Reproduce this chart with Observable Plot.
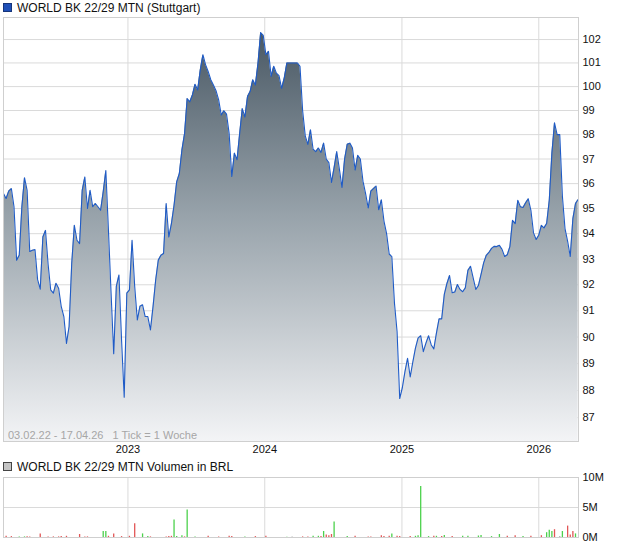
<!DOCTYPE html>
<html><head><meta charset="utf-8">
<script src="https://cdn.jsdelivr.net/npm/d3@7"></script>
<script src="https://cdn.jsdelivr.net/npm/@observablehq/plot@0.6"></script>
<style>
body{margin:0;background:#fff;font-family:"Liberation Sans",Arial,sans-serif;}
#wrap{position:relative;width:620px;height:546px;overflow:hidden;background:#fff;}
.abs{position:absolute;left:0;}
.leg{position:absolute;left:3px;font-size:12px;line-height:14px;color:#111;white-space:nowrap;}
.sq{display:inline-block;width:7px;height:7px;border:1px solid #333;margin-right:5px;vertical-align:0px;}
#note{position:absolute;left:8px;top:429px;font-size:11px;line-height:12px;color:#a6a6a6;white-space:pre;}
</style></head>
<body><div id="wrap">
<div id="p1" class="abs" style="top:0px"></div>
<div id="p2" class="abs" style="top:470px"></div>
<div class="leg" style="top:1px"><span class="sq" style="background:#1f50b8;border-color:#17357a"></span>WORLD BK 22/29 MTN (Stuttgart)</div>
<div id="note">03.02.22 - 17.04.26   1 Tick = 1 Woche</div>
<div class="leg" style="top:460px"><span class="sq" style="background:#c4c4c4;border-color:#444"></span>WORLD BK 22/29 MTN Volumen in BRL</div>
</div>
<script>
// ---- data (weekly ticks) ----
const startDate = "2022-02-03";
const endDate = "2026-04-17";
const prices = [
95.6,95.4,95.7,95.8,95.07,92.96,93.15,95.07,96.24,95.73,
93.3,93.35,93.37,92.2,91.83,93.87,94.13,92.8,91.8,91.68,
92.06,91.87,91.17,90.78,89.76,90.4,92.83,94.33,93.74,93.61,
95.73,96.27,95.0,95.73,95.07,95.2,95.07,94.93,95.67,96.53,
94.13,91.68,89.37,91.94,92.38,89.88,87.75,91.68,91.8,93.74,
91.94,90.65,91.17,91.23,90.78,90.78,90.27,91.17,92.19,92.96,
93.15,93.22,95.2,93.87,94.4,95.13,96.07,96.4,97.37,98.04,
99.5,99.36,99.65,100.1,99.86,100.71,101.35,100.93,100.64,100.29,
100.07,99.83,99.44,98.81,98.99,98.85,98.04,96.29,97.24,96.97,
98.04,99.08,98.73,99.58,99.79,100.29,100.07,101.0,102.3,102.18,
101.35,101.49,100.43,100.86,100.57,100.46,99.93,100.36,101.0,101.0,
101.0,101.0,101.0,100.86,99.0,97.95,97.6,98.2,97.4,97.3,
97.45,97.27,97.65,97.0,96.85,96.05,96.65,97.3,96.6,95.85,
97.0,97.6,97.65,97.45,96.55,97.15,97.0,96.1,95.6,95.02,
95.7,95.8,95.9,94.95,95.35,94.5,94.0,93.2,93.1,91.3,
90.2,87.7,88.1,88.7,89.2,88.5,89.06,89.58,89.96,90.05,
89.45,89.77,90.05,89.71,89.55,90.15,90.69,90.69,91.63,92.05,
92.36,91.69,91.72,92.01,91.82,91.73,91.88,92.56,92.72,92.27,
91.82,91.97,92.4,92.85,93.15,93.26,93.42,93.5,93.49,93.54,
93.38,93.1,93.17,93.49,94.53,94.4,95.33,95.07,95.04,95.23,
95.39,94.93,94.03,93.77,93.94,94.33,94.23,94.4,95.33,97.24,
98.49,98.0,98.0,95.5,94.2,93.7,93.1,94.6,95.2,95.36
];
// volume (millions BRL), by week index; direction g = up, r = down, n = unchanged
const volWeek = [1,3,6,8,9,10,14,17,19,21,22,24,29,31,32,38,39,40,42,45,48,50,53,55,56,62,63,64,65,66,68,69,70,73,78,82,86,87,92,96,100,108,110,114,116,118,120,121,122,123,124,125,126,131,134,139,140,144,145,147,148,150,151,155,157,158,159,162,164,165,167,168,171,175,177,181,182,186,189,192,195,198,201,205,207,208,209,210,212,213,215,216,217,218];
const volValue = [0.2,0.15,0.1,0.1,0.12,0.1,0.6,0.1,0.1,0.1,0.15,0.2,0.5,0.1,0.1,1.0,1.0,0.2,0.6,0.15,0.2,2.3,0.6,0.15,0.1,0.1,0.15,0.2,2.9,0.15,0.3,0.1,4.6,0.1,0.2,0.1,0.2,0.15,0.1,0.15,0.2,0.05,0.1,0.1,0.1,0.2,0.2,0.15,1.0,0.4,0.3,0.5,2.6,0.15,0.2,0.1,0.1,0.3,0.15,0.2,0.6,0.2,0.15,0.15,0.2,0.3,8.5,0.15,0.2,0.2,0.15,0.35,0.15,0.2,0.2,0.25,0.35,0.15,0.5,0.2,0.3,0.15,0.2,0.3,0.8,1.2,1.0,1.3,0.15,1.0,1.9,0.4,1.0,0.6];
const volDir = ["r","r","g","g","r","r","r","r","r","r","r","r","r","r","r","g","g","r","r","r","r","r","g","g","r","r","r","r","g","g","g","r","g","g","r","r","r","r","g","r","r","g","n","r","r","g","g","r","g","r","r","r","g","g","r","r","r","r","r","r","g","r","r","r","g","g","g","g","r","g","r","g","r","g","g","g","g","g","g","r","r","g","r","r","g","g","g","r","n","g","r","r","r","g"];
const yTicks = [87,88,89,90,91,92,93,94,95,96,97,98,99,100,101,102];
const xTickYears = ["2023-01-01","2024-01-01","2025-01-01","2026-01-01"];
const volTicks = [0,5,10];

// ---- build tables ----
const t0 = new Date(startDate + "T00:00:00Z");
const t1 = new Date(endDate + "T00:00:00Z");
const dates = prices.map((_, i) => d3.utcDay.offset(t0, 7 * i));
const priceData = prices.map((v, i) => ({date: dates[i], v}));
const volData = volWeek.map((w, k) => ({date: dates[w], v: volValue[k], dir: volDir[k]}));
const xTicks = xTickYears.map(s => new Date(s + "T00:00:00Z"));
const yLo = 86.13, yHi = 102.95;
const font = {fontFamily: "'Liberation Sans', Arial, sans-serif", fontSize: "11px", color: "#111", background: "transparent", overflow: "visible"};

const p1 = Plot.plot({
  width: 620, height: 457,
  marginLeft: 3, marginRight: 42, marginTop: 17, marginBottom: 16,
  style: font,
  x: {type: "utc", domain: [t0, t1], ticks: xTicks, tickFormat: d3.utcFormat("%Y"), tickSize: 0, tickPadding: 4, label: null},
  y: {type: "log", domain: [yLo, yHi], axis: "right", ticks: yTicks, tickFormat: d => String(d), tickSize: 0, tickPadding: 4, label: null},
  marks: [
    Plot.ruleY(yTicks, {stroke: "#dadada", strokeWidth: 1}),
    Plot.ruleX(xTicks, {stroke: "#dadada", strokeWidth: 1}),
    Plot.areaY(priceData, {x: "date", y1: yLo, y2: "v", curve: "linear", fill: "url(#pg)"}),
    Plot.line(priceData, {x: "date", y: "v", curve: "linear", stroke: "#1f5bc6", strokeWidth: 1.1}),
    Plot.frame({stroke: "#cfcfcf"})
  ]
});
d3.select(p1).insert("defs", ":first-child").html(
  '<linearGradient id="pg" gradientUnits="userSpaceOnUse" x1="0" y1="28" x2="0" y2="441">' +
  '<stop offset="0" stop-color="#485763"/><stop offset="0.45" stop-color="#97a2aa"/><stop offset="1" stop-color="#f3f4f6"/></linearGradient>');
document.getElementById("p1").appendChild(p1);

const p2 = Plot.plot({
  width: 620, height: 76,
  marginLeft: 3, marginRight: 42, marginTop: 7, marginBottom: 9,
  style: font,
  x: {type: "utc", domain: [t0, t1], axis: null},
  y: {domain: [0, 10], axis: "right", ticks: volTicks, tickFormat: d => d + "M", tickSize: 0, tickPadding: 4, label: null},
  color: {domain: ["g", "r", "n"], range: ["#4cd14c", "#e25656", "#b0b0b0"]},
  marks: [
    Plot.ruleY(volTicks, {stroke: "#dadada"}),
    Plot.ruleX(xTicks, {stroke: "#dadada"}),
    Plot.ruleX(volData, {x: "date", y1: 0, y2: "v", stroke: "dir", strokeWidth: 1.3}),
    Plot.frame({stroke: "#cfcfcf"})
  ]
});
document.getElementById("p2").appendChild(p2);
</script>
</body></html>
